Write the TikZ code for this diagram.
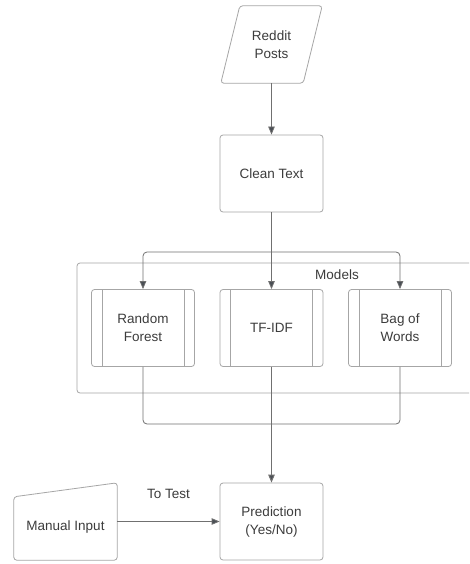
\documentclass[tikz,border=0pt]{standalone}
\usepackage{fontspec}
\setmainfont{Liberation Sans}
\usetikzlibrary{arrows.meta,calc}
\definecolor{textgray}{HTML}{3C3C3C}
\definecolor{boxgray}{HTML}{A6A6A6}
\definecolor{linegray}{HTML}{707070}
\definecolor{headgray}{HTML}{4A4F55}
\begin{document}
\begin{tikzpicture}[x=1pt,y=-1pt,
  txt/.style={font=\fontsize{13.5}{18}\selectfont, text=textgray, align=center},
  shapeline/.style={draw=boxgray, line width=0.8pt, rounded corners=3pt},
  box/.style={txt, shapeline, minimum width=103pt, minimum height=77pt, inner sep=0pt},
  conn/.style={draw=linegray, line width=0.8pt, rounded corners=4pt},
  arr/.style={conn, -{Triangle[width=6.5pt,length=8pt,fill=headgray]}}
]
\useasboundingbox (0,0) rectangle (469,564);
\clip (0,0) rectangle (469,564);
\fill[white] (0,0) rectangle (469,564);

% Reddit Posts (parallelogram)
\node[txt, minimum width=101pt, minimum height=77pt, inner sep=0pt] (posts) at (271.5,44.5) {Reddit\\Posts};
\draw[shapeline] ($(posts.north west)+(19,0)$) -- (posts.north east) -- ($(posts.south east)+(-19,0)$) -- (posts.south west) -- cycle;

% Clean Text
\node[box] (clean) at (271.5,173.5) {Clean Text};

% Models container
\node[shapeline, minimum width=413pt, minimum height=130pt, inner sep=0pt] (models) at (283.5,328) {};
\node[txt] (modelslabel) at (337,275) {Models};

% Model boxes
\node[box] (rf) at (143,328) {Random\\Forest};
\node[box] (tfidf) at (271.5,328) {TF-IDF};
\node[box] (bow) at (400,328) {Bag of\\Words};
\foreach \n in {rf,tfidf,bow}{
  \draw[draw=boxgray, line width=0.8pt] ($(\n.north west)+(11,0)$) -- ($(\n.south west)+(11,0)$);
  \draw[draw=boxgray, line width=0.8pt] ($(\n.north east)+(-11,0)$) -- ($(\n.south east)+(-11,0)$);
}

% Prediction
\node[box] (pred) at (271.5,521.5) {Prediction\\(Yes/No)};

% Manual Input (manual input shape)
\node[txt, minimum width=103pt, minimum height=66pt, inner sep=0pt] (manual) at (65.5,527) {Manual Input};
\draw[shapeline] ($(manual.north west)+(0,3)$) -- ($(manual.north east)+(0,-11)$) -- (manual.south east) -- (manual.south west) -- cycle;

% Connectors
\draw[arr] (posts.south) -- (clean.north);
\coordinate (split) at (271.5,252);
\draw[conn] (clean.south) -- (split);
\draw[arr] (split) -| (rf.north);
\draw[arr] (split) -| (bow.north);
\draw[arr] (split) -- (tfidf.north);

\coordinate (merge) at (271.5,424);
\draw[conn] (rf.south) |- (merge);
\draw[conn] (bow.south) |- (merge);
\draw[conn] (tfidf.south) -- (merge);
\draw[arr, line width=1pt] (merge) -- (pred.north);

\draw[arr] (manual.east |- pred) -- (pred.west) node[midway, txt, yshift=28pt] (totest) {To Test};
\end{tikzpicture}
\end{document}
